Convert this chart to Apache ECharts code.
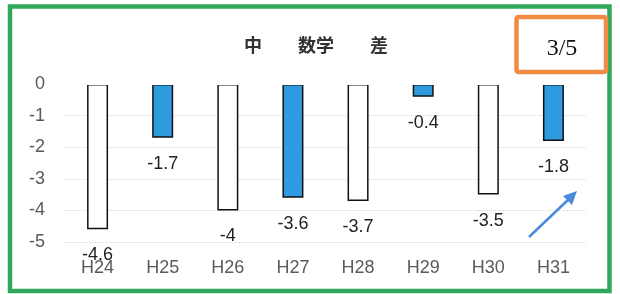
<!DOCTYPE html>
<html>
<head>
<meta charset="utf-8">
<script src="https://cdn.jsdelivr.net/npm/echarts@6/dist/echarts.min.js"></script>
<style>
html,body{margin:0;padding:0;background:#fff;}
#chart{width:620px;height:294px;}
</style>
</head>
<body>
<div id="chart"></div>
<script>
const categories = ['H24','H25','H26','H27','H28','H29','H30','H31'];
const values = [-4.6, -1.7, -4, -3.6, -3.7, -0.4, -3.5, -1.8];
const yTicks = [0, -1, -2, -3, -4, -5];
const titleText = '中　　数学　　差';
const pageText = '3/5';

const FONT = '"Liberation Sans", Arial, sans-serif';
const chart = echarts.init(document.getElementById('chart'), null, {renderer: 'canvas'});

const option = {
  backgroundColor: '#ffffff',
  animation: false,
  title: {
    text: titleText,
    left: 311, top: 31,
    textAlign: 'center',
    textStyle: {fontSize: 18, fontWeight: 'bold', color: '#333', fontFamily: '"Noto Sans CJK JP", sans-serif'}
  },
  grid: {left: 65, right: 34, top: 84, bottom: 52, containLabel: false},
  xAxis: {
    type: 'category',
    data: categories,
    position: 'bottom',
    axisLine: {show: false},
    axisTick: {show: false},
    axisLabel: {color: '#5a5a5a', fontSize: 18, fontFamily: FONT, margin: 17}
  },
  yAxis: {
    type: 'value',
    min: Math.min(...yTicks), max: Math.max(...yTicks), interval: 1,
    axisLine: {show: false},
    axisTick: {show: false},
    axisLabel: {color: '#595959', fontSize: 18, fontFamily: FONT, margin: 20},
    splitLine: {show: true, lineStyle: {color: '#d6d6d6', type: 'dotted', width: 1}}
  },
  series: [{
    type: 'bar',
    barWidth: 21,
    data: values.map((v, i) => ({
      value: v,
      itemStyle: {color: i % 2 === 1 ? '#2e9be0' : '#ffffff', borderColor: '#111', borderWidth: 1.5}
    })),
    label: {
      show: true, position: 'bottom', distance: 17,
      color: '#222', fontSize: 18, fontFamily: FONT
    },
    markLine: {
      silent: true, symbol: 'none', label: {show: false},
      lineStyle: {color: '#ffffff', type: 'solid', width: 2},
      data: [{yAxis: 0}],
      z: 5
    }
  }],
  graphic: [
    {type: 'rect', shape: {x: 10, y: 6.5, width: 599.5, height: 284.5},
     style: {fill: 'none', stroke: '#2fa85a', lineWidth: 4.5}, z: 10},
    {type: 'rect', shape: {x: 516.5, y: 17, width: 89.5, height: 55, r: 2},
     style: {fill: '#fff', stroke: '#f28c45', lineWidth: 4.5}, z: 10},
    {type: 'text', x: 562, y: 49, z: 11,
     style: {text: pageText, fill: '#111', font: '24px "Liberation Serif", serif', textAlign: 'center', textVerticalAlign: 'middle'}},
    {type: 'line', shape: {x1: 529, y1: 237, x2: 570, y2: 198}, z: 11,
     style: {stroke: '#4a8bdc', lineWidth: 2.5}},
    {type: 'polygon', shape: {points: [[577, 191], [563, 196], [572, 205]]}, z: 11,
     style: {fill: '#4a8bdc'}}
  ]
};
chart.setOption(option);
</script>
</body>
</html>
